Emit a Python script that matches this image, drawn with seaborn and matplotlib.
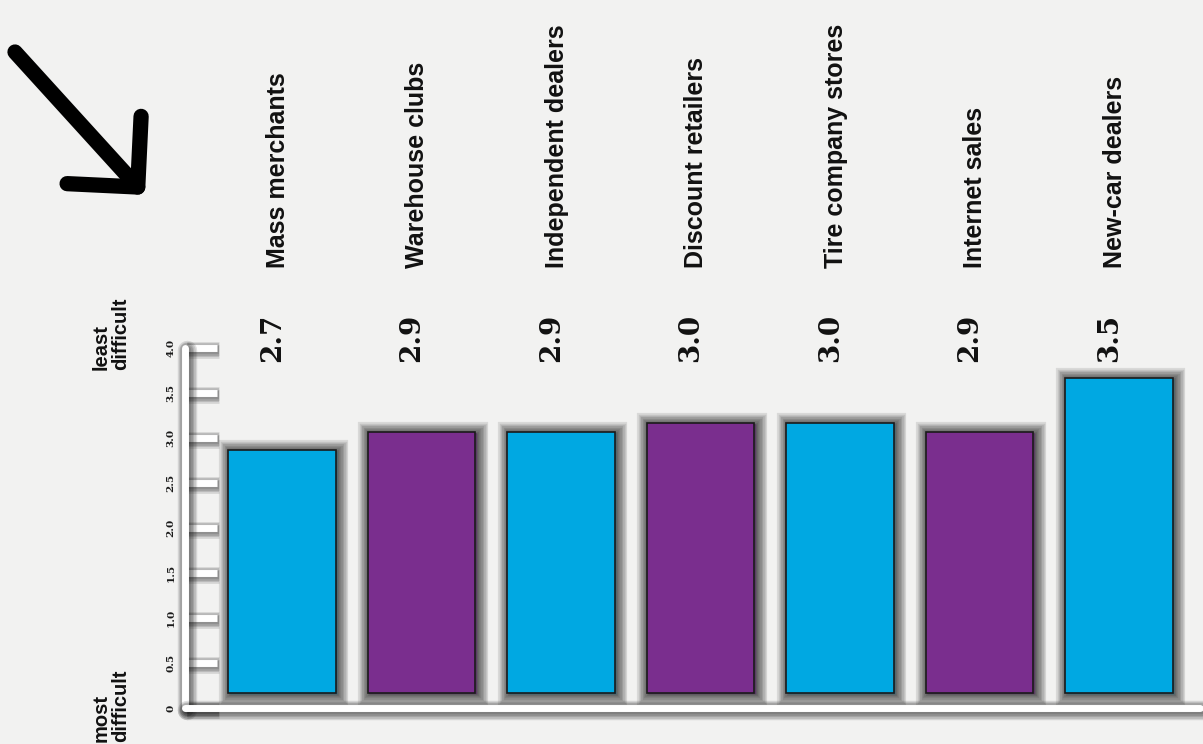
import matplotlib
matplotlib.use("Agg")
import matplotlib.pyplot as plt
import matplotlib.patheffects as pe
from matplotlib.patches import FancyArrowPatch, ArrowStyle
import pandas as pd
import seaborn as sns

# data
channels = ["Mass merchants", "Warehouse clubs", "Independent dealers", "Discount retailers",
            "Tire company stores", "Internet sales", "New-car dealers"]
scores = [2.7, 2.9, 2.9, 3.0, 3.0, 2.9, 3.5]
score_text = ["2.7", "2.9", "2.9", "3.0", "3.0", "2.9", "3.5"]
bar_colors = ["#00a8e2", "#7a2e8e", "#00a8e2", "#7a2e8e", "#00a8e2", "#7a2e8e", "#00a8e2"]
yticks = [0, 0.5, 1.0, 1.5, 2.0, 2.5, 3.0, 3.5, 4.0]
ytick_text = ["0", "0.5", "1.0", "1.5", "2.0", "2.5", "3.0", "3.5", "4.0"]

sns.set_theme(style="white")
bg = "#f2f2f1"

fig = plt.figure(figsize=(12.03, 7.44), dpi=100, facecolor=bg)
ax = fig.add_axes([0.1538, 0.0484, 0.8436, 0.4839])
ax.set_facecolor("none")

df = pd.DataFrame({"channel": channels, "score": scores})
sns.barplot(data=df, x="channel", y="score", hue="channel", palette=bar_colors,
            legend=False, width=0.77, saturation=1, bottom=0.17,
            edgecolor="#1a1a1a", linewidth=1.2, ax=ax)

# soft dark shadow: stacked translucent strokes, widest first
def glow(widths, alpha, offset=(0, 0)):
    fx = [pe.Stroke(linewidth=w, foreground="#111111", alpha=alpha, offset=offset)
          for w in sorted(widths, reverse=True)]
    return fx + [pe.Normal()]

for p in ax.patches:
    p.set_path_effects(glow([2, 4, 6, 8, 10, 12, 14, 16], 0.11, (1, -1)))

ax.set_xlim(-0.695, 6.58)
ax.set_ylim(0, 4.0)

for side in ["top", "right"]:
    ax.spines[side].set_visible(False)
for side in ["left", "bottom"]:
    sp = ax.spines[side]
    sp.set_color("white")
    sp.set_linewidth(5)
    sp.set_capstyle("round")
    sp.set_path_effects(glow([6, 8, 10, 12, 14], 0.13, (1.5, -1.5)))

ax.set_xlabel("")
ax.set_ylabel("")
ax.tick_params(axis="x", bottom=False, labelbottom=False)
ax.set_yticks(yticks, ytick_text)
ax.tick_params(axis="y", direction="in", length=23, width=5, color="white", pad=7, left=True)
for lab in ax.get_yticklabels():
    lab.set_rotation(90)
    lab.set_va("center")
    lab.set_family("DejaVu Serif")
    lab.set_fontweight("bold")
    lab.set_fontsize(7.5)
    lab.set_color("#1a1a1a")
for t in ax.yaxis.get_major_ticks():
    t.tick1line.set_path_effects(glow([6, 8, 10, 12], 0.13, (1.5, -1.5)))

# value and channel labels above the bars
for i, (name, txt) in enumerate(zip(channels, score_text)):
    ax.text(i - 0.07, 4.11, txt, rotation=90, ha="center", va="center",
            family="DejaVu Serif", fontweight="heavy", fontsize=20, color="#111111", clip_on=False)
    ax.text(i - 0.03, 4.89, name, rotation=90, ha="center", va="bottom",
            family="Liberation Sans", fontweight="bold", fontsize=18, color="#111111", clip_on=False)

# scale end notes
fig.text(111 / 1203, 1 - 370 / 744, "least\ndifficult", rotation=90, ha="center", va="bottom",
         multialignment="left", family="Liberation Sans", fontweight="bold", fontsize=14.5,
         linespacing=1.05, color="#111111")
fig.text(111 / 1203, 1 - 742 / 744, "most\ndifficult", rotation=90, ha="center", va="bottom",
         multialignment="left", family="Liberation Sans", fontweight="bold", fontsize=14.5,
         linespacing=1.05, color="#111111")

# hand-drawn style arrow
arrow = FancyArrowPatch((15 / 1203, 1 - 52 / 744), (145 / 1203, 1 - 195 / 744),
                        transform=fig.transFigure, arrowstyle=ArrowStyle("->", head_length=3.6, head_width=3.6),
                        mutation_scale=10, linewidth=11, color="black", shrinkA=0, shrinkB=0,
                        capstyle="round", joinstyle="round")
fig.patches.append(arrow)

fig.savefig("out.png", dpi=100, facecolor=bg)
